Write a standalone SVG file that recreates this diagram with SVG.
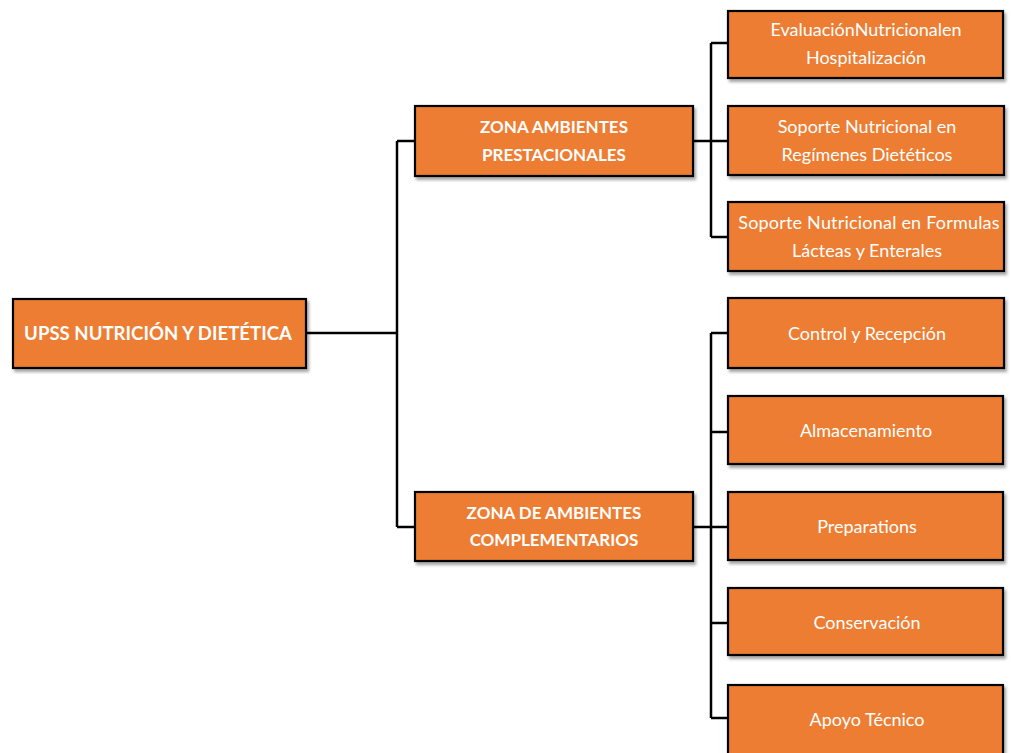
<svg xmlns="http://www.w3.org/2000/svg" width="1011" height="753" viewBox="0 0 1011 753">
  <defs>
    <filter id="shadow" x="-5%" y="-10%" width="115%" height="130%">
      <feDropShadow dx="2" dy="3" stdDeviation="1.5" flood-color="#000" flood-opacity="0.35"/>
    </filter>
  </defs>
  <style>
    .box { fill: #ED7D31; stroke: #000; stroke-width: 2.2; filter: url(#shadow); }
    .t { fill: #fff; font-family: Lato, "Open Sans", "Liberation Sans", sans-serif; text-anchor: middle; }
    .b { font-weight: bold; }
    .r { font-size: 18px; }
    .z { font-size: 17px; }
    .conn { fill: none; stroke: #000; stroke-width: 2.5; }
  </style>
  <rect width="1011" height="753" fill="#fff"/>

  <!-- connectors -->
  <g id="connectors">
    <path class="conn" d="M306 333 H397"/>
    <path class="conn" d="M397 141 V527"/>
    <path class="conn" d="M397 141 H415"/>
    <path class="conn" d="M397 527 H415"/>
    <path class="conn" d="M693 141 H728"/>
    <path class="conn" d="M711 43 V237"/>
    <path class="conn" d="M711 43 H728"/>
    <path class="conn" d="M711 237 H728"/>
    <path class="conn" d="M693 527 H728"/>
    <path class="conn" d="M711 333 V718"/>
    <path class="conn" d="M711 333 H728"/>
    <path class="conn" d="M711 432 H728"/>
    <path class="conn" d="M711 623 H728"/>
    <path class="conn" d="M711 718 H728"/>
  </g>

  <!-- root -->
  <g id="root">
    <rect class="box" x="13" y="299" width="293" height="69"/>
    <text class="t b" x="158" y="340" font-size="18.6">UPSS NUTRICIÓN Y DIETÉTICA</text>
  </g>

  <!-- zones -->
  <g id="zona-prestacionales">
    <rect class="box" x="415" y="106" width="278" height="70"/>
    <text class="t b z" x="554" y="133">ZONA AMBIENTES</text>
    <text class="t b z" x="554" y="161">PRESTACIONALES</text>
  </g>
  <g id="zona-complementarios">
    <rect class="box" x="415" y="492" width="278" height="69"/>
    <text class="t b z" x="554" y="519">ZONA DE AMBIENTES</text>
    <text class="t b z" x="554" y="546">COMPLEMENTARIOS</text>
  </g>

  <!-- prestacionales children -->
  <g id="evaluacion">
    <rect class="box" x="728" y="11" width="275" height="67"/>
    <text class="t r" x="866" y="36">EvaluaciónNutricionalen</text>
    <text class="t r" x="866" y="64">Hospitalización</text>
  </g>
  <g id="soporte-regimenes">
    <rect class="box" x="728" y="106" width="276" height="69"/>
    <text class="t r" x="867" y="133">Soporte Nutricional en</text>
    <text class="t r" x="867" y="161">Regímenes Dietéticos</text>
  </g>
  <g id="soporte-formulas">
    <rect class="box" x="728" y="202" width="276" height="69"/>
    <text class="t r" x="869" y="229" letter-spacing="0.2">Soporte Nutricional en Formulas</text>
    <text class="t r" x="867" y="257">Lácteas y Enterales</text>
  </g>

  <!-- complementarios children -->
  <g id="control">
    <rect class="box" x="728" y="298" width="276" height="70"/>
    <text class="t r" x="867" y="340">Control y Recepción</text>
  </g>
  <g id="almacenamiento">
    <rect class="box" x="728" y="396" width="275" height="68"/>
    <text class="t r" x="866" y="437">Almacenamiento</text>
  </g>
  <g id="preparations">
    <rect class="box" x="728" y="492" width="275" height="68"/>
    <text class="t r" x="867" y="533">Preparations</text>
  </g>
  <g id="conservacion">
    <rect class="box" x="728" y="588" width="275" height="67"/>
    <text class="t r" x="867" y="629">Conservación</text>
  </g>
  <g id="apoyo">
    <rect class="box" x="728" y="685" width="275" height="70"/>
    <text class="t r" x="867" y="726">Apoyo Técnico</text>
  </g>
</svg>
